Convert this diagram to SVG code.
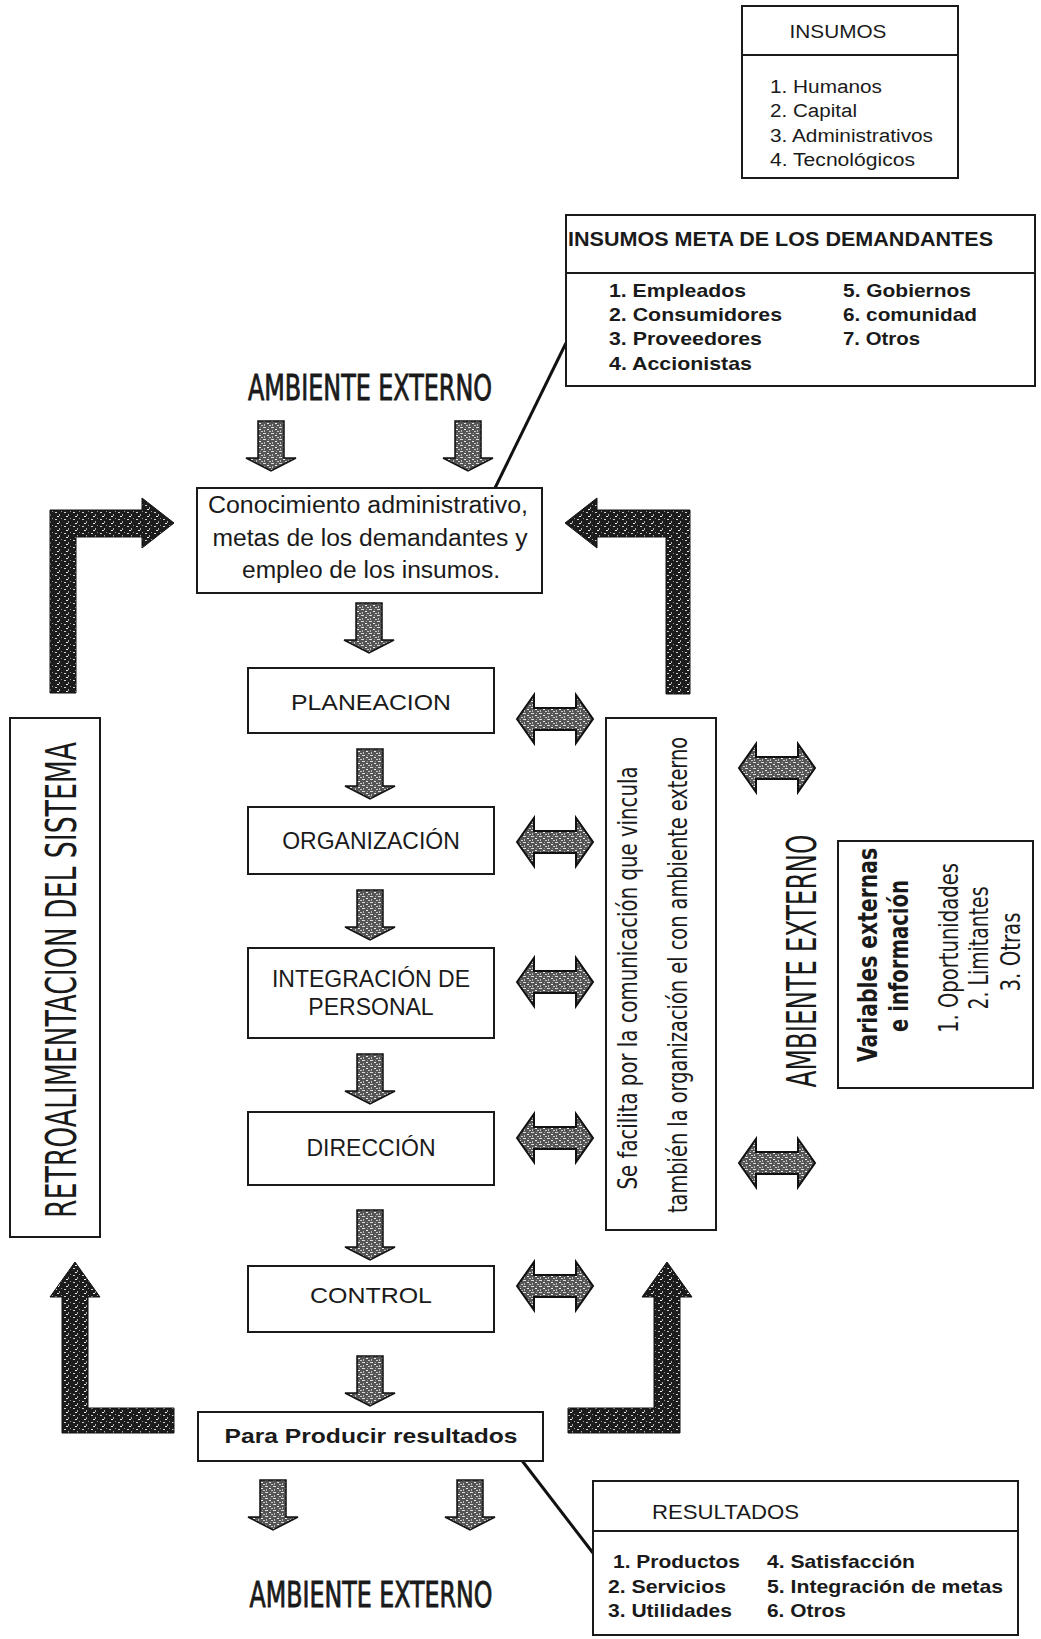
<svg xmlns="http://www.w3.org/2000/svg" width="1041" height="1639" viewBox="0 0 1041 1639">
<defs>
<style>
.bx{fill:#fff;stroke:#1a1a1a;stroke-width:2}
.dv{stroke:#1a1a1a;stroke-width:2}
.t{font-family:"Liberation Sans",Arial,sans-serif;fill:#1a1a1a}
.b{font-weight:bold}
.n{font-family:"Liberation Sans Narrow","DejaVu Sans Condensed","Liberation Sans",sans-serif;fill:#1a1a1a}
.h{stroke:#1a1a1a;stroke-width:0.8}
.m{text-anchor:middle}
.ln{stroke:#111;stroke-width:3;fill:none}
.la{fill:url(#dk);stroke:#111;stroke-width:1}
.da{fill:url(#md);stroke:#111;stroke-width:1.5}
.ha{fill:url(#md);stroke:#111;stroke-width:2}
</style>
<pattern id="dk" width="9" height="7" patternUnits="userSpaceOnUse">
<rect width="9" height="7" fill="#1c1c1c"/>
<rect x="1" y="1" width="2" height="1" fill="#d0d0d0"/>
<rect x="5" y="3" width="1" height="2" fill="#aaa"/>
<rect x="3" y="5" width="2" height="1" fill="#eee"/>
<rect x="7" y="0" width="1" height="1" fill="#999"/>
</pattern>
<pattern id="md" width="8" height="6" patternUnits="userSpaceOnUse">
<rect width="8" height="6" fill="#555"/>
<rect x="0" y="0" width="3" height="1" fill="#ddd"/>
<rect x="4" y="2" width="2" height="1" fill="#eee"/>
<rect x="1" y="3" width="1" height="2" fill="#bbb"/>
<rect x="6" y="4" width="2" height="1" fill="#ccc"/>
<rect x="5" y="0" width="1" height="1" fill="#999"/>
</pattern>
<path id="down" d="M-13,0 H13 V37 H25 L0,50 L-25,37 H-13 Z"/>
<path id="dbl" d="M-38,0 L-21,-24 V-11 H21 V-24 L38,0 L21,24 V11 H-21 V24 Z"/>
</defs>
<rect width="1041" height="1639" fill="#fff"/>

<g id="connectors">
<path class="ln" d="M495,488 L566,343"/>
<path class="ln" d="M520,1458 L593,1553"/>
<polygon class="la" points="50,693 50,510 142,510 142,498 174,523 142,548 142,537 76,537 76,693"/>
<polygon class="la" points="690,694 690,510 597,510 597,498 565,523 597,548 597,537 666,537 666,694"/>
<polygon class="la" points="62,1433 62,1297 50,1297 75,1262 100,1297 88,1297 88,1408 174,1408 174,1433"/>
<polygon class="la" points="680,1433 680,1297 692,1297 667,1262 642,1297 654,1297 654,1408 568,1408 568,1433"/>
<use href="#down" class="da" transform="translate(271,421)"/>
<use href="#down" class="da" transform="translate(468,421)"/>
<use href="#down" class="da" transform="translate(369,603)"/>
<use href="#down" class="da" transform="translate(370,749)"/>
<use href="#down" class="da" transform="translate(370,890)"/>
<use href="#down" class="da" transform="translate(370,1054)"/>
<use href="#down" class="da" transform="translate(370,1210)"/>
<use href="#down" class="da" transform="translate(370,1356)"/>
<use href="#down" class="da" transform="translate(273,1480)"/>
<use href="#down" class="da" transform="translate(470,1480)"/>
<use href="#dbl" class="ha" transform="translate(555,719)"/>
<use href="#dbl" class="ha" transform="translate(555,842)"/>
<use href="#dbl" class="ha" transform="translate(555,982)"/>
<use href="#dbl" class="ha" transform="translate(555,1138)"/>
<use href="#dbl" class="ha" transform="translate(555,1286)"/>
<use href="#dbl" class="ha" transform="translate(777,768)"/>
<use href="#dbl" class="ha" transform="translate(777,1163)"/>
</g>

<g id="insumos">
<rect class="bx" x="742" y="6" width="216" height="172"/>
<line class="dv" x1="742" y1="55" x2="958" y2="55"/>
<text class="t m" x="838" y="38" font-size="19" textLength="97" lengthAdjust="spacingAndGlyphs">INSUMOS</text>
<text class="t" x="770" y="93" font-size="18" textLength="112" lengthAdjust="spacingAndGlyphs">1. Humanos</text>
<text class="t" x="770" y="117" font-size="18" textLength="87" lengthAdjust="spacingAndGlyphs">2. Capital</text>
<text class="t" x="770" y="142" font-size="18" textLength="163" lengthAdjust="spacingAndGlyphs">3. Administrativos</text>
<text class="t" x="770" y="166" font-size="18" textLength="145" lengthAdjust="spacingAndGlyphs">4. Tecnológicos</text>
</g>

<g id="insumos-meta">
<rect class="bx" x="566" y="215" width="469" height="171"/>
<line class="dv" x1="566" y1="273" x2="1035" y2="273"/>
<text class="t b" x="568" y="246" font-size="20" textLength="425" lengthAdjust="spacingAndGlyphs">INSUMOS META DE LOS DEMANDANTES</text>
<text class="t b" x="609" y="297" font-size="19" textLength="137" lengthAdjust="spacingAndGlyphs">1. Empleados</text>
<text class="t b" x="609" y="321" font-size="19" textLength="173" lengthAdjust="spacingAndGlyphs">2. Consumidores</text>
<text class="t b" x="609" y="345" font-size="19" textLength="153" lengthAdjust="spacingAndGlyphs">3. Proveedores</text>
<text class="t b" x="609" y="370" font-size="19" textLength="143" lengthAdjust="spacingAndGlyphs">4. Accionistas</text>
<text class="t b" x="843" y="297" font-size="19" textLength="128" lengthAdjust="spacingAndGlyphs">5. Gobiernos</text>
<text class="t b" x="843" y="321" font-size="19" textLength="134" lengthAdjust="spacingAndGlyphs">6. comunidad</text>
<text class="t b" x="843" y="345" font-size="19" textLength="77" lengthAdjust="spacingAndGlyphs">7. Otros</text>
</g>

<g id="ambiente-top">
<text class="n h m" x="370" y="400" font-size="35" textLength="244" lengthAdjust="spacingAndGlyphs">AMBIENTE EXTERNO</text>
</g>

<g id="conocimiento">
<rect class="bx" x="197" y="488" width="345" height="105"/>
<text class="t m" x="368" y="513" font-size="23" textLength="320" lengthAdjust="spacingAndGlyphs">Conocimiento administrativo,</text>
<text class="t m" x="370" y="546" font-size="23" textLength="315" lengthAdjust="spacingAndGlyphs">metas de los demandantes y</text>
<text class="t m" x="371" y="578" font-size="23" textLength="258" lengthAdjust="spacingAndGlyphs">empleo de los insumos.</text>
</g>

<g id="planeacion">
<rect class="bx" x="248" y="668" width="246" height="65"/>
<text class="t m" x="371" y="710" font-size="22" textLength="160" lengthAdjust="spacingAndGlyphs">PLANEACION</text>
</g>

<g id="organizacion">
<rect class="bx" x="248" y="807" width="246" height="67"/>
<text class="t m" x="371" y="849" font-size="23">ORGANIZACIÓN</text>
</g>

<g id="integracion">
<rect class="bx" x="248" y="948" width="246" height="90"/>
<text class="t m" x="371" y="987" font-size="23">INTEGRACIÓN DE</text>
<text class="t m" x="371" y="1015" font-size="23">PERSONAL</text>
</g>

<g id="direccion">
<rect class="bx" x="248" y="1112" width="246" height="73"/>
<text class="t m" x="371" y="1156" font-size="23">DIRECCIÓN</text>
</g>

<g id="control">
<rect class="bx" x="248" y="1266" width="246" height="66"/>
<text class="t m" x="371" y="1303" font-size="22" textLength="122" lengthAdjust="spacingAndGlyphs">CONTROL</text>
</g>

<g id="producir">
<rect class="bx" x="198" y="1412" width="345" height="49"/>
<text class="t b m" x="371" y="1443" font-size="21" textLength="293" lengthAdjust="spacingAndGlyphs">Para Producir resultados</text>
</g>

<g id="ambiente-bottom">
<text class="n h m" x="371" y="1607" font-size="35" textLength="243" lengthAdjust="spacingAndGlyphs">AMBIENTE EXTERNO</text>
</g>

<g id="resultados">
<rect class="bx" x="593" y="1481" width="425" height="154"/>
<line class="dv" x1="593" y1="1531" x2="1018" y2="1531"/>
<text class="t" x="652" y="1519" font-size="20" textLength="147" lengthAdjust="spacingAndGlyphs">RESULTADOS</text>
<text class="t b" x="613" y="1568" font-size="19" textLength="127" lengthAdjust="spacingAndGlyphs">1. Productos</text>
<text class="t b" x="608" y="1593" font-size="19" textLength="118" lengthAdjust="spacingAndGlyphs">2. Servicios</text>
<text class="t b" x="608" y="1617" font-size="19" textLength="124" lengthAdjust="spacingAndGlyphs">3. Utilidades</text>
<text class="t b" x="767" y="1568" font-size="19" textLength="148" lengthAdjust="spacingAndGlyphs">4. Satisfacción</text>
<text class="t b" x="767" y="1593" font-size="19" textLength="236" lengthAdjust="spacingAndGlyphs">5. Integración de metas</text>
<text class="t b" x="767" y="1617" font-size="19" textLength="79" lengthAdjust="spacingAndGlyphs">6. Otros</text>
</g>

<g id="retroalimentacion">
<rect class="bx" x="10" y="718" width="90" height="519"/>
<text class="n m" transform="translate(76,980) rotate(-90)" font-size="42" textLength="476" lengthAdjust="spacingAndGlyphs">RETROALIMENTACION DEL SISTEMA</text>
</g>

<g id="comunicacion">
<rect class="bx" x="606" y="718" width="110" height="512"/>
<text class="n m" transform="translate(637,978) rotate(-90)" font-size="26" textLength="423" lengthAdjust="spacingAndGlyphs">Se facilita por la comunicación que vincula</text>
<text class="n m" transform="translate(687,975) rotate(-90)" font-size="26" textLength="476" lengthAdjust="spacingAndGlyphs">también la organización el con ambiente externo</text>
</g>

<g id="ambiente-right">
<text class="n m" transform="translate(816,961) rotate(-90)" font-size="40" textLength="253" lengthAdjust="spacingAndGlyphs">AMBIENTE EXTERNO</text>
</g>

<g id="variables">
<rect class="bx" x="838" y="841" width="195" height="247"/>
<text class="n b m" transform="translate(877,955) rotate(-90)" font-size="26" textLength="214" lengthAdjust="spacingAndGlyphs">Variables externas</text>
<text class="n b m" transform="translate(908,956) rotate(-90)" font-size="26" textLength="152" lengthAdjust="spacingAndGlyphs">e información</text>
<text class="n m" transform="translate(958,948) rotate(-90)" font-size="26" textLength="170" lengthAdjust="spacingAndGlyphs">1. Oportunidades</text>
<text class="n m" transform="translate(988,948) rotate(-90)" font-size="26" textLength="123" lengthAdjust="spacingAndGlyphs">2. Limitantes</text>
<text class="n m" transform="translate(1020,952) rotate(-90)" font-size="26" textLength="79" lengthAdjust="spacingAndGlyphs">3. Otras</text>
</g>
</svg>
